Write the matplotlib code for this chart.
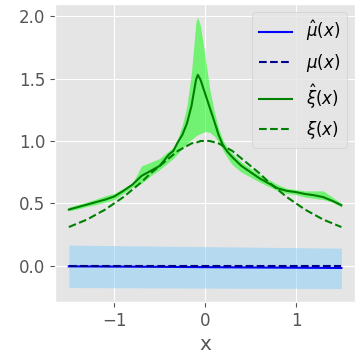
import matplotlib
matplotlib.use("Agg")
import matplotlib.pyplot as plt

plt.style.use("ggplot")
plt.rcParams["font.size"] = 12

# mean: estimate, truth and band (coarse grid, nearly flat)
x_mu = [-1.5, -0.5, 0.5, 1.5]
mu_hat = [-0.005, -0.009, -0.014, -0.018]
mu_true = [0.0, 0.0, 0.0, 0.0]
mu_lo = [-0.175, -0.178, -0.181, -0.183]
mu_hi = [0.165, 0.157, 0.149, 0.141]

# xi: estimate, truth and band (finer near the peak)
x = [-1.5, -1.4, -1.3, -1.2, -1.1, -1.0, -0.9, -0.8, -0.7, -0.6, -0.5,
     -0.4, -0.35, -0.3, -0.25, -0.2, -0.15, -0.1, -0.08, -0.05, 0.0,
     0.05, 0.1, 0.15, 0.2, 0.25, 0.3, 0.4, 0.5, 0.6, 0.7, 0.8, 0.9,
     1.0, 1.1, 1.2, 1.3, 1.4, 1.5]
xi_hat = [0.45, 0.47, 0.49, 0.51, 0.53, 0.555, 0.60, 0.65, 0.72, 0.76, 0.80,
          0.89, 0.92, 0.99, 1.05, 1.14, 1.28, 1.49, 1.53, 1.49, 1.38,
          1.27, 1.16, 1.045, 0.96, 0.91, 0.87, 0.80, 0.75, 0.70, 0.66, 0.62, 0.60,
          0.59, 0.575, 0.565, 0.55, 0.52, 0.485]
xi_true = [0.31, 0.34, 0.37, 0.41, 0.45, 0.50, 0.55, 0.61, 0.67, 0.74, 0.80,
           0.86, 0.89, 0.92, 0.94, 0.96, 0.98, 0.99, 0.99, 1.00, 1.00,
           1.00, 0.99, 0.98, 0.96, 0.94, 0.92, 0.86, 0.80, 0.74, 0.67, 0.61, 0.55,
           0.50, 0.45, 0.41, 0.37, 0.34, 0.31]
xi_hi = [0.47, 0.49, 0.51, 0.535, 0.56, 0.58, 0.62, 0.66, 0.80, 0.83, 0.86,
         0.92, 0.95, 1.02, 1.13, 1.28, 1.55, 1.96, 1.99, 1.92, 1.68,
         1.42, 1.24, 1.10, 1.00, 0.94, 0.90, 0.83, 0.78, 0.73, 0.69, 0.65, 0.62,
         0.61, 0.60, 0.60, 0.60, 0.55, 0.50]
xi_lo = [0.44, 0.455, 0.475, 0.49, 0.51, 0.53, 0.58, 0.63, 0.66, 0.72, 0.77,
         0.83, 0.86, 0.90, 0.94, 0.98, 1.01, 1.04, 1.05, 1.06, 1.075,
         1.07, 1.04, 0.99, 0.92, 0.86, 0.81, 0.75, 0.71, 0.67, 0.635, 0.60, 0.58,
         0.57, 0.55, 0.54, 0.53, 0.51, 0.47]

fig, ax = plt.subplots(figsize=(3.63, 3.55), dpi=100)
fig.subplots_adjust(left=0.152, right=0.978, bottom=0.149, top=0.989)

ax.fill_between(x_mu, mu_lo, mu_hi, color="lightskyblue", alpha=0.5, lw=0)
ax.plot(x_mu, mu_hat, color="blue", label=r"$\hat{\mu}(x)$")
ax.plot(x_mu, mu_true, color="darkblue", ls="--", label=r"$\mu(x)$")
ax.fill_between(x, xi_lo, xi_hi, color="lime", alpha=0.5, lw=0)
ax.plot(x, xi_hat, color="green", label=r"$\hat{\xi}(x)$")
ax.plot(x, xi_true, color="green", ls="--", label=r"$\xi(x)$")

ax.set_xticks([-1, 0, 1])
ax.set_yticks([0.0, 0.5, 1.0, 1.5, 2.0])
ax.set_xlabel("x")
ax.legend(loc="upper right", fontsize=12)

fig.savefig("out.png", dpi=100)
